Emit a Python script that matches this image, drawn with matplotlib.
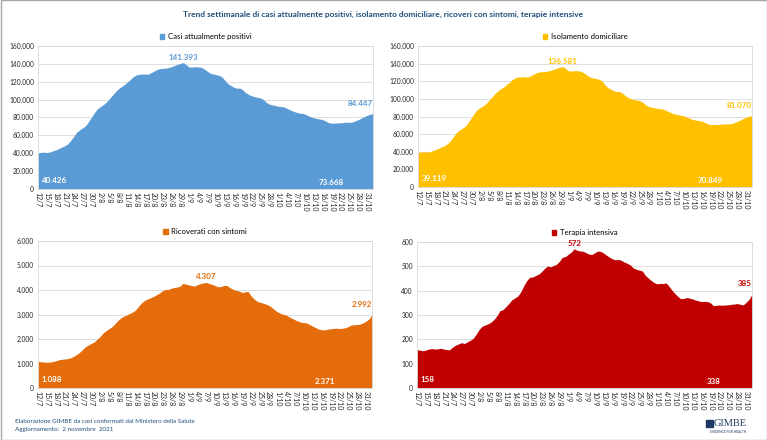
import matplotlib
matplotlib.use("Agg")
import matplotlib.pyplot as plt
import numpy as np
from matplotlib.patches import Patch, Rectangle
from matplotlib.ticker import FuncFormatter

plt.rcParams["font.family"] = ["Lato", "DejaVu Sans"]

# daily values, 12/7/2021 -> 2/11/2021
positivi = [
    40426, 40900, 41300, 40800, 41500, 42600, 43800, 45200, 46900, 48300,
    50500, 54200, 58600, 63200, 66100, 68300, 70600, 75100, 80200, 85300,
    89600, 92100, 94300, 97000, 100900, 104600, 108500, 111800, 114300, 116400,
    119300, 122100, 125300, 127400, 128300, 128500, 128700, 128300, 129900, 131600,
    133500, 134500, 135000, 135100, 135900, 136800, 138200, 139400, 140500, 141393,
    139000, 136400, 136500, 136800, 136700, 136200, 134500, 132000, 129800, 128700,
    128000, 127200, 125600, 121800, 118000, 115900, 114000, 112800, 112900, 111200,
    108000, 105800, 104400, 103300, 102600, 101900, 100100, 97000, 95000, 94100,
    93400, 92600, 92300, 91800, 90000, 88600, 87100, 86000, 85100, 84600,
    83900, 82300, 80800, 79600, 78900, 78300, 77600, 76200, 74300, 73668,
    73800, 73950, 74000, 74400, 74800, 74600, 74900, 76300, 77600, 79200,
    80900, 82400, 83600, 84447,
]
isolamento = [
    39119, 39600, 40000, 39500, 40200, 41300, 42500, 44000, 45600, 47000,
    49200, 52800, 57200, 61700, 64500, 66700, 69000, 73400, 78400, 83400,
    87600, 90000, 92100, 94700, 98500, 102100, 105900, 109100, 111500, 113500,
    116300, 119000, 122100, 124100, 124900, 125000, 125100, 124600, 126200, 127800,
    129600, 130500, 130900, 130900, 131600, 132400, 133700, 134800, 135900, 136581,
    134200, 131600, 131700, 132000, 131900, 131400, 129700, 127300, 125100, 124000,
    123300, 122400, 120900, 117200, 113400, 111400, 109600, 108400, 108500, 106900,
    103800, 101700, 100300, 99300, 98600, 98000, 96300, 93300, 91400, 90500,
    89900, 89200, 88900, 88400, 86700, 85300, 83800, 82800, 81900, 81400,
    80700, 79200, 77800, 76600, 75900, 75400, 74700, 73300, 71600, 70849,
    70950, 71000, 71100, 71400, 71700, 71600, 71900, 73200, 74500, 76000,
    77700, 79100, 80200, 81070,
]
ricoverati = [
    1088, 1070, 1060, 1050, 1055, 1080, 1110, 1150, 1170, 1185,
    1195, 1230, 1290, 1360, 1450, 1560, 1680, 1750, 1820, 1880,
    1990, 2100, 2240, 2340, 2420, 2500, 2620, 2750, 2860, 2930,
    2980, 3040, 3100, 3180, 3330, 3470, 3570, 3630, 3680, 3730,
    3800, 3870, 3960, 4020, 4020, 4070, 4100, 4120, 4150, 4270,
    4240, 4210, 4180, 4160, 4220, 4260, 4290, 4307, 4260, 4230,
    4170, 4130, 4150, 4190, 4180, 4090, 4030, 3980, 3960, 3900,
    3920, 3950, 3780, 3640, 3550, 3500, 3470, 3430, 3380, 3300,
    3190, 3110, 3050, 3000, 2980, 2900, 2840, 2780, 2730, 2680,
    2670, 2650, 2580, 2520, 2460, 2400, 2380, 2371, 2400, 2420,
    2430, 2440, 2430, 2440, 2460, 2510, 2570, 2580, 2590, 2610,
    2660, 2730, 2820, 2992,
]
terapia = [
    158, 155, 153, 156, 160, 162, 160, 161, 163, 160,
    158, 157, 168, 176, 181, 186, 183, 190, 196, 205,
    222, 241, 254, 259, 264, 271, 282, 298, 318, 322,
    334, 348, 362, 370, 378, 395, 420, 441, 455, 456,
    462, 468, 478, 491, 501, 498, 503, 508, 520, 537,
    540, 549, 558, 572, 566, 563, 562, 556, 550, 549,
    556, 563, 561, 554, 545, 537, 530, 527, 528, 524,
    517, 512, 505, 493, 488, 484, 481, 463, 452, 442,
    433, 428, 430, 429, 432, 418, 402, 388, 376, 367,
    368, 372, 369, 366, 361, 358, 355, 356, 355, 350,
    338, 340, 341, 340, 341, 342, 344, 345, 347, 344,
    341, 352, 364, 385,
]

tick_labels = [
    "12/7", "15/7", "18/7", "21/7", "24/7", "27/7", "30/7", "2/8", "5/8", "8/8",
    "11/8", "14/8", "17/8", "20/8", "23/8", "26/8", "29/8", "1/9", "4/9", "7/9",
    "10/9", "13/9", "16/9", "19/9", "22/9", "25/9", "28/9", "1/10", "4/10", "7/10",
    "10/10", "13/10", "16/10", "19/10", "22/10", "25/10", "28/10", "31/10",
]

names = ["Casi attualmente positivi", "Isolamento domiciliare",
         "Ricoverati con sintomi", "Terapia intensiva"]
series = [positivi, isolamento, ricoverati, terapia]
colors = ["#5B9BD5", "#FFC000", "#E46C0A", "#C00000"]
ymax = [160000, 160000, 6000, 600]
ystep = [20000, 20000, 1000, 100]

# axes boxes in pixels: left, top, right, bottom
boxes = [(38, 46, 373, 189), (418, 46, 752, 187),
         (38, 241, 372, 388), (417, 242, 752, 388)]

W, H = 767, 440
fig = plt.figure(figsize=(W / 100, H / 100), dpi=100)
fig.patch.set_facecolor("white")

fmt = FuncFormatter(lambda v, p: f"{v:,.0f}".replace(",", "."))


def lab(v):
    return f"{v:,}".replace(",", ".")


for name, vals, col, top, step, (l, t, r, b) in zip(names, series, colors, ymax, ystep, boxes):
    ax = fig.add_axes([l / W, 1 - b / H, (r - l) / W, (b - t) / H])
    vals = np.array(vals)
    x = np.arange(len(vals))
    ax.fill_between(x, 0, vals, color=col, lw=0, zorder=2)
    ax.set_xlim(0, len(vals) - 1)
    ax.set_ylim(0, top)
    ax.set_yticks(np.arange(0, top + 1, step))
    ax.yaxis.set_major_formatter(fmt)
    ax.set_xticks(x[::3])
    ax.set_xticklabels(tick_labels, rotation=-90)
    ax.tick_params(axis="x", labelsize=5, pad=2.5)
    ax.tick_params(axis="y", labelsize=4.8, pad=3)
    ax.tick_params(axis="both", length=0, colors="#262626")
    ax.grid(axis="y", color="#D9D9D9", lw=0.6, zorder=1)
    for s in ax.spines.values():
        s.set_color("#D9D9D9")
        s.set_linewidth(0.6)

    ax.legend(handles=[Patch(color=col, label=name)], loc="lower center",
              bbox_to_anchor=(0.5, 1.0), frameon=False, fontsize=5.6,
              handlelength=0.6, handleheight=0.6, handletextpad=0.4,
              borderaxespad=0.4)

    # data labels
    ipk = int(np.argmax(vals))
    imn = int(np.argmin(vals[60:])) + 60
    kw = dict(fontsize=5.8, fontweight="bold", textcoords="offset points")
    ax.annotate(lab(vals[ipk]), (ipk, vals[ipk]), xytext=(0, 1.5), ha="center",
                va="bottom", color=col, **kw)
    ax.annotate(lab(vals[-1]), (x[-1], vals[-1]), xytext=(0, 5), ha="right",
                va="bottom", color=col, **kw)
    ax.annotate(lab(vals[0]), (0, 0), xytext=(2.5, 3.5), ha="left", va="bottom",
                color="white", **kw)
    ax.annotate(lab(vals[imn]), (imn, 0), xytext=(0, 2), ha="center",
                va="bottom", color="white", **kw)

fig.text(0.5, 1 - 14 / H,
         "Trend settimanale di casi attualmente positivi, isolamento domiciliare, "
         "ricoveri con sintomi, terapie intensive",
         ha="center", va="center", fontsize=6.0, fontweight="bold", color="#1F4E79")

fig.text(15 / W, 1 - 421 / H, "Elaborazione GIMBE da casi confermati dal Ministero della Salute",
         ha="left", va="center", fontsize=4.5, color="#1F4E79")
fig.text(15 / W, 1 - 429 / H, "Aggiornamento:  2 novembre  2021",
         ha="left", va="center", fontsize=4.5, color="#1F4E79")

# GIMBE logo
fig.patches.append(Rectangle((706 / W, 1 - 427 / H), 7 / W, 7 / H,
                             transform=fig.transFigure, color="#1F3864"))
fig.text(714 / W, 1 - 423.5 / H, "GIMBE", ha="left", va="center", fontsize=7.5,
         family="Liberation Serif", color="#1F3864")
fig.text(728 / W, 1 - 432 / H, "EVIDENCE FOR HEALTH", ha="center", va="center",
         fontsize=2.3, color="#1F3864")

fig.patches.append(Rectangle((0.5 / W, 0.5 / H), 1 - 1 / W, 1 - 1 / H,
                             transform=fig.transFigure, fill=False,
                             edgecolor="#A6A6A6", lw=1))

fig.savefig("out.png", dpi=100)
